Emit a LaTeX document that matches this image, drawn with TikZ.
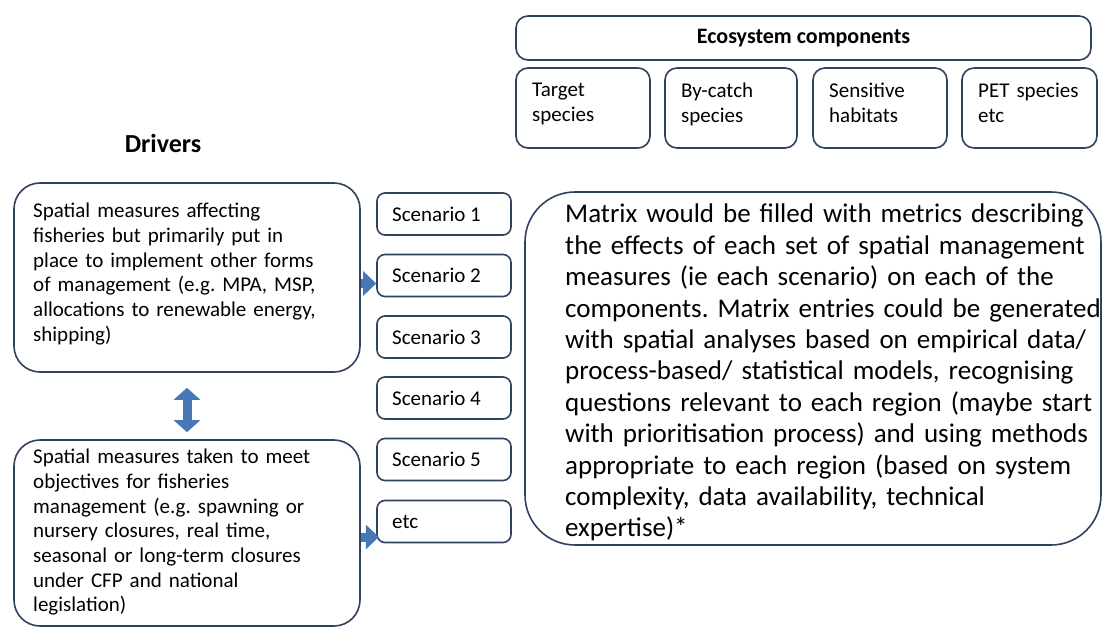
\documentclass[tikz,border=0pt]{standalone}
\usepackage{fontspec}
\setmainfont{Carlito}
\usetikzlibrary{arrows.meta,calc}
\definecolor{bordc}{RGB}{48,66,96}
\definecolor{arrowblue}{RGB}{70,120,182}
\begin{document}
\frenchspacing
\begin{tikzpicture}[x=1pt,y=-1pt,
  rbox/.style={draw=bordc, line width=1.6pt, fill=white, inner sep=0pt, rounded corners=#1},
  smalltxt/.style={inner sep=0pt, align=left, anchor=north west, font=\fontsize{21}{24.7}\selectfont},
  bigtxt/.style={inner sep=0pt, align=left, anchor=north west, font=\fontsize{27}{31.4}\selectfont},
  blockarrow/.style={draw=arrowblue, line width=9pt, -{Triangle[width=24pt,length=13pt]}},
  dblarrow/.style={draw=arrowblue, line width=9pt, {Triangle[width=26pt,length=12pt]}-{Triangle[width=26pt,length=12pt]}}
]
\useasboundingbox (0,0) rectangle (1109,628);
\fill[white] (0,0) rectangle (1109,628);

% Ecosystem components
\node[rbox=12pt, minimum width=575pt, minimum height=44pt, font=\fontsize{22}{26}\selectfont\bfseries] (eco) at (803.5,38) {Ecosystem components};
\node[rbox=12pt, minimum width=134pt, minimum height=80pt] (c1) at (583,108) {};
\node[rbox=12pt, minimum width=132pt, minimum height=80pt] (c2) at (731,108) {};
\node[rbox=12pt, minimum width=134pt, minimum height=80pt] (c3) at (880,108) {};
\node[rbox=12pt, minimum width=135pt, minimum height=80pt] (c4) at (1029.5,108) {};
\node[smalltxt, text width=115pt] (t1) at (532,83) {Target\\species};
\node[smalltxt, text width=115pt] (t2) at (681,83) {By-catch\\species};
\node[smalltxt, text width=115pt] (t3) at (829,83) {Sensitive\\habitats};
\node[smalltxt, text width=125pt] (t4) at (978,83) {PET species\\etc};

% Drivers
\node[font=\fontsize{26}{30}\selectfont\bfseries, inner sep=0pt] (drv) at (163,143) {Drivers};
\node[rbox=26pt, minimum width=346pt, minimum height=189pt] (d1) at (187,277.5) {};
\node[smalltxt, text width=325pt] (d1t) at (33,203) {Spatial measures affecting\\fisheries but primarily put in\\place to implement other forms\\of management (e.g. MPA, MSP,\\allocations to renewable energy,\\shipping)};
\node[rbox=26pt, minimum width=346pt, minimum height=186pt] (d2) at (187,533) {};
\node[smalltxt, text width=325pt] (d2t) at (33,449) {Spatial measures taken to meet\\objectives for fisheries\\management (e.g. spawning or\\nursery closures, real time,\\seasonal or long-term closures\\under CFP and national\\legislation)};

% Scenarios
\foreach \n/\y/\t in {s1/214/Scenario 1, s2/275.5/Scenario 2, s3/337/Scenario 3, s4/398/Scenario 4, s5/459.5/Scenario 5, s6/521.5/etc}{
  \node[rbox=8pt, minimum width=134pt, minimum height=42pt] (\n) at (444,\y) {};
  \node[inner sep=0pt, anchor=west, font=\fontsize{21}{24}\selectfont] (\n t) at (392,\y) {\t};
}

% Matrix
\node[rbox=50pt, minimum width=576pt, minimum height=353pt] (mx) at (813,368.5) {};
\node[bigtxt, text width=560pt] (mxt) at (565,204) {Matrix would be filled with metrics describing\\the effects of each set of spatial management\\measures (ie each scenario) on each of the\\components. Matrix entries could be generated\\with spatial analyses based on empirical data/\\process-based/ statistical models, recognising\\questions relevant to each region (maybe start\\with prioritisation process) and using methods\\appropriate to each region (based on system\\complexity, data availability, technical\\expertise)*};

% Arrows
\draw[blockarrow] ($(d1.east)+(0,6)$) -- ($(s2.west)+(0,8)$);
\draw[blockarrow] ($(d2.east)+(0,4)$) -- ($(d2.east)+(18,4)$) coordinate (ea);
\draw[dblarrow, shorten <=15pt, shorten >=7pt] (d1.south) -- (d2.north);
\end{tikzpicture}
\end{document}
